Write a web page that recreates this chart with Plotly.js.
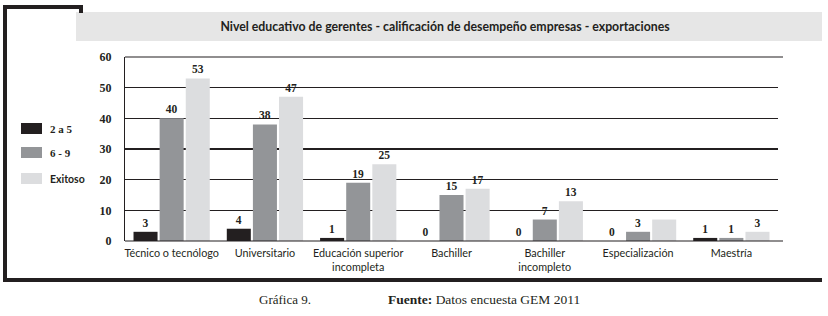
<!DOCTYPE html>
<html>
<head>
<meta charset="utf-8">
<script src="https://cdn.plot.ly/plotly-3.0.1.min.js"></script>
<style>html,body{margin:0;padding:0;background:#fff;}#chart{width:828px;height:316px;}</style>
</head>
<body>
<div id="chart"></div>
<script>
// ---- data ----
const categories = ["Técnico o tecnólogo", "Universitario", "Educación superior<br>incompleta", "Bachiller", "Bachiller<br>incompleto", "Especialización", "Maestría"];
const seriesNames = ["2 a 5", "6 - 9", "Exitoso"];
const values2a5 = [3, 4, 1, 0, 0, 0, 1];
const values6a9 = [40, 38, 19, 15, 7, 3, 1];
const valuesExitoso = [53, 47, 25, 17, 13, 7, 3];
const labels2a5 = ["3", "4", "1", "0", "0", "0", "1"];
const labels6a9 = ["40", "38", "19", "15", "7", "3", "1"];
const labelsExitoso = ["53", "47", "25", "17", "13", "", "3"];
const yTicks = [0, 10, 20, 30, 40, 50, 60];
const chartTitle = "Nivel educativo de gerentes - calificación de desempeño empresas - exportaciones";

// ---- style ----
const colors = ["#231f20", "#939598", "#dcdddf"];
const W = 828, H = 316;
const L = 125, R = 778, T = 57, B = 241;
const px = v => (v - L) / (R - L);
const py = v => (B - v) / (B - T);
const serif = "Liberation Serif, serif";
const sans = "Lato, Open Sans, sans-serif";

const valueSets = [values2a5, values6a9, valuesExitoso];
const labelSets = [labels2a5, labels6a9, labelsExitoso];
const traces = seriesNames.map((n, i) => ({
  type: "bar",
  name: n,
  x: categories,
  y: valueSets[i],
  text: labelSets[i],
  textposition: "outside",
  constraintext: "none",
  cliponaxis: false,
  textfont: {family: serif, size: 11.5, color: "#231f20", weight: "bold"},
  marker: {color: colors[i], line: {width: 0}},
  hoverinfo: "none",
  showlegend: false
}));

const shapes = [
  // outer frame pieces
  {type: "line", xref: "paper", yref: "paper", x0: px(5), x1: px(5), y0: py(5), y1: py(282), line: {color: "#231f20", width: 4}},
  {type: "line", xref: "paper", yref: "paper", x0: px(3), x1: px(83), y0: py(7), y1: py(7), line: {color: "#231f20", width: 4}},
  {type: "line", xref: "paper", yref: "paper", x0: px(81), x1: px(81), y0: py(5), y1: py(13), line: {color: "#231f20", width: 4}},
  {type: "line", xref: "paper", yref: "paper", x0: px(3), x1: px(822), y0: py(280), y1: py(280), line: {color: "#231f20", width: 4}},
  // title band
  {type: "rect", xref: "paper", yref: "paper", x0: px(76), x1: px(822), y0: py(41), y1: py(12), fillcolor: "#e6e6e6", line: {width: 0}, layer: "below"},
  // baseline and top line extension
  {type: "line", xref: "paper", yref: "paper", x0: px(125), x1: px(783), y0: 0, y1: 0, line: {color: "#231f20", width: 1.2}},
  {type: "line", xref: "paper", yref: "paper", x0: px(125), x1: px(783), y0: 1, y1: 1, line: {color: "#231f20", width: 1.2}}
];
const annotations = [];
const legY = [128.5, 152.5, 178.5];
seriesNames.forEach((n, i) => {
  shapes.push({type: "rect", xref: "paper", yref: "paper", x0: px(21), x1: px(42), y0: py(legY[i] - 5.5), y1: py(legY[i] + 5.5), fillcolor: colors[i], line: {width: 0}});
  annotations.push({xref: "paper", yref: "paper", x: px(48), y: py(legY[i]), xanchor: "left", yanchor: "middle", text: n, showarrow: false,
    font: {family: i === 2 ? sans : serif, size: i === 2 ? 10.5 : 11, color: "#231f20", weight: "bold"}});
});
annotations.push({xref: "paper", yref: "paper", x: px(257), y: py(299), xanchor: "left", yanchor: "middle", showarrow: false,
  text: "Gráfica 9.", font: {family: serif, size: 13, color: "#231f20"}});
annotations.push({xref: "paper", yref: "paper", x: px(386), y: py(299), xanchor: "left", yanchor: "middle", showarrow: false,
  text: "<b>Fuente:</b> Datos encuesta GEM 2011", font: {family: serif, size: 13.5, color: "#231f20"}});

const layout = {
  width: W, height: H,
  margin: {l: L, r: W - R, t: T, b: H - B, pad: 0},
  paper_bgcolor: "#fff", plot_bgcolor: "rgba(0,0,0,0)",
  title: {text: chartTitle, x: 445 / W, xanchor: "center", y: 1 - 27 / H, yanchor: "middle", yref: "container", xref: "container",
    font: {family: sans, size: 12.3, color: "#231f20", weight: "bold"}},
  barmode: "group",
  bargap: 0.16,
  bargroupgap: 0.08,
  showlegend: false,
  xaxis: {type: "category", showgrid: false, showline: false, ticks: "", zeroline: false, ticklabelstandoff: 4,
    tickfont: {family: sans, size: 10.8, color: "#231f20"}, automargin: false},
  yaxis: {range: [0, 60], tickvals: yTicks, ticktext: yTicks.map(String), showgrid: true, gridcolor: "#231f20", gridwidth: 1.2,
    showline: true, linecolor: "#231f20", linewidth: 1.2, zeroline: false, ticks: "", ticklabelstandoff: 10,
    tickfont: {family: serif, size: 12, color: "#231f20", weight: "bold"}, automargin: false, fixedrange: true},
  shapes: shapes,
  annotations: annotations,
  font: {family: sans}
};
Plotly.newPlot("chart", traces, layout, {displayModeBar: false, staticPlot: true});
</script>
</body>
</html>
